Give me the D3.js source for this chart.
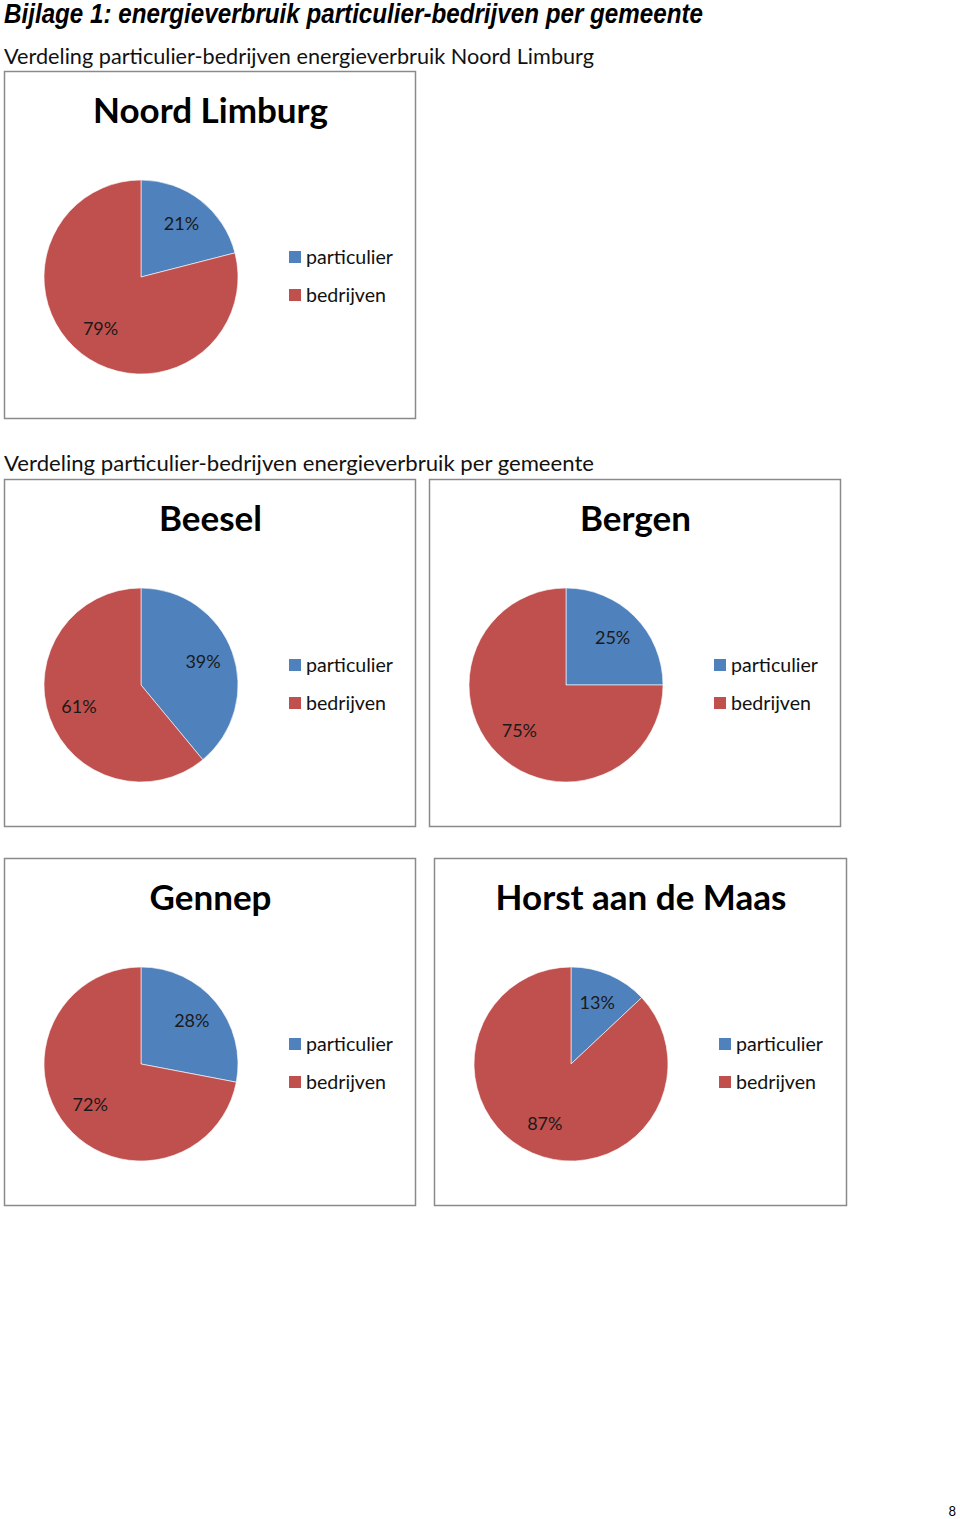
<!DOCTYPE html>
<html><head><meta charset="utf-8">
<script src="https://cdn.jsdelivr.net/npm/d3@7"></script>
<style>body{margin:0;background:#fff}svg{display:block}</style>
</head><body>
<script>
const pageTitle = "Bijlage 1: energieverbruik particulier-bedrijven per gemeente";
const subtitles = ["Verdeling particulier-bedrijven energieverbruik Noord Limburg",
                   "Verdeling particulier-bedrijven energieverbruik per gemeente"];
const regions = ["Noord Limburg", "Beesel", "Bergen", "Gennep", "Horst aan de Maas"];
const seriesNames = ["particulier", "bedrijven"];
const particulier = [21, 39, 25, 28, 13];
const bedrijven = [79, 61, 75, 72, 87];
const pageNumber = "8";

const colors = d3.scaleOrdinal().domain(seriesNames).range(["#4F81BD", "#C0504D"]);
const boxes = [
  {x: 4, y: 71, w: 411, h: 347},
  {x: 4, y: 479, w: 411, h: 347},
  {x: 429, y: 479, w: 411, h: 347},
  {x: 4, y: 858, w: 411, h: 347},
  {x: 434, y: 858, w: 412, h: 347}
];

const svg = d3.select("body").append("svg").attr("width", 960).attr("height", 1519);

svg.append("text").attr("x", 4).attr("y", 23)
  .attr("font-family", "'Liberation Sans Narrow', 'Liberation Sans', Arial")
  .attr("font-weight", "bold").attr("font-style", "italic").attr("font-size", 27)
  .attr("textLength", 699).attr("lengthAdjust", "spacingAndGlyphs")
  .attr("fill", "#000").text(pageTitle);

const subY = [64, 471];
subtitles.forEach((s, i) => {
  svg.append("text").attr("x", 4).attr("y", subY[i])
    .attr("font-family", "Lato, 'Open Sans', sans-serif").attr("font-size", 21)
    .attr("textLength", 590).attr("lengthAdjust", "spacingAndGlyphs")
    .attr("fill", "#111").text(s);
});

const pie = d3.pie().sort(null).value(d => d.v);
const r = 97;
const arc = d3.arc().innerRadius(0).outerRadius(r);
const labelArc = d3.arc().innerRadius(r * 0.68).outerRadius(r * 0.68);

regions.forEach((name, i) => {
  const b = boxes[i];
  const g = svg.append("g").attr("transform", `translate(${b.x},${b.y})`);
  g.append("rect").attr("x", 0.5).attr("y", 0.5).attr("width", b.w).attr("height", b.h)
    .attr("fill", "#fff").attr("stroke", "#8a8a8a").attr("stroke-width", 1.5);
  g.append("text").attr("x", b.w / 2 + 1).attr("y", 52)
    .attr("text-anchor", "middle")
    .attr("font-family", "Lato, 'Open Sans', sans-serif").attr("font-weight", "bold")
    .attr("font-size", 35).attr("fill", "#000").text(name);
  const data = [{k: seriesNames[0], v: particulier[i]}, {k: seriesNames[1], v: bedrijven[i]}];
  const pg = g.append("g").attr("transform", `translate(137,206)`);
  const arcs = pie(data);
  pg.selectAll("path").data(arcs).join("path")
    .attr("d", arc).attr("fill", d => colors(d.data.k))
    .attr("stroke", "#fff").attr("stroke-width", 0.6);
  pg.selectAll("text").data(arcs).join("text")
    .attr("transform", d => `translate(${labelArc.centroid(d)})`)
    .attr("text-anchor", "middle").attr("dy", "0.3em")
    .attr("font-family", "Lato, 'Open Sans', sans-serif").attr("font-size", 18)
    .attr("fill", "#1a1a1a").text(d => d.data.v + "%");
  const lg = g.append("g").attr("transform", `translate(285,186)`);
  seriesNames.forEach((s, j) => {
    lg.append("rect").attr("x", 0).attr("y", j * 38 - 6).attr("width", 12).attr("height", 12)
      .attr("fill", colors(s));
    lg.append("text").attr("x", 17).attr("y", j * 38).attr("dy", "0.35em")
      .attr("font-family", "Lato, 'Open Sans', sans-serif").attr("font-size", 19.6)
      .attr("fill", "#111").text(s);
  });
});

svg.append("text").attr("x", 956).attr("y", 1516).attr("text-anchor", "end")
  .attr("font-family", "Lato, sans-serif").attr("font-size", 13).attr("fill", "#000").text(pageNumber);
</script>
</body></html>
